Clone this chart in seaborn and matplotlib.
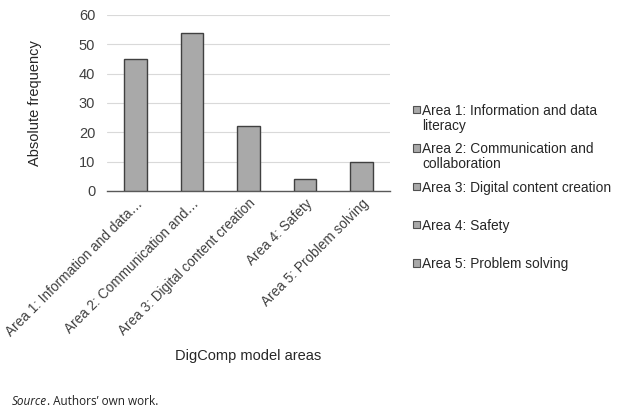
import matplotlib
matplotlib.use("Agg")
import matplotlib.pyplot as plt
import matplotlib.patches as mpatches
import seaborn as sns
import pandas as pd

# data
areas = ["Area 1: Information and data literacy",
         "Area 2: Communication and collaboration",
         "Area 3: Digital content creation",
         "Area 4: Safety",
         "Area 5: Problem solving"]
tick_labels = ["Area 1: Information and data\u2026",
               "Area 2: Communication and\u2026",
               "Area 3: Digital content creation",
               "Area 4: Safety",
               "Area 5: Problem solving"]
legend_labels = ["Area 1: Information and data\nliteracy",
                 "Area 2: Communication and\ncollaboration",
                 "Area 3: Digital content creation",
                 "Area 4: Safety",
                 "Area 5: Problem solving"]
freq = [45, 54, 22, 4, 10]

df = pd.DataFrame({"area": areas, "freq": freq})

sns.set_style("white")
plt.rcParams["font.family"] = ["Liberation Sans", "DejaVu Sans"]
txt = "#404040"

fig = plt.figure(figsize=(6.3, 4.15), dpi=100)
ax = fig.add_axes([0.170, 0.540, 0.449, 0.424])

sns.barplot(data=df, x="area", y="freq", color="#a9a9a9", saturation=1,
            width=0.4, edgecolor="#404040", linewidth=1.0, ax=ax, zorder=3)

ax.set_ylim(0, 60)
ax.set_yticks(range(0, 61, 10))
ax.yaxis.grid(True, color="#d9d9d9", linewidth=0.8, zorder=0)
ax.set_xlim(-0.5, 4.5)
for s in ["top", "right", "left"]:
    ax.spines[s].set_visible(False)
ax.spines["bottom"].set_color("#595959")
ax.spines["bottom"].set_linewidth(1.0)
ax.set_xticks(range(5))
ax.set_xticklabels(tick_labels, rotation=45, ha="right", rotation_mode="anchor",
                   fontsize=9.8, color=txt)
ax.tick_params(axis="x", length=0, pad=4)
ax.tick_params(axis="y", length=0, labelsize=10.5, labelcolor=txt, pad=8.5)
ax.set_xlabel("DigComp model areas", fontsize=10.5, color="#262626")
ax.xaxis.set_label_coords(0.5, -0.90)
ax.set_ylabel("Absolute frequency", fontsize=10.5, color="#262626")
ax.yaxis.set_label_coords(-0.23, 0.5)

# legend drawn by hand so the entries sit evenly like the original
y0 = 104
step = 38.3
for i, lab in enumerate(legend_labels):
    ytop = y0 + i * step
    fig.patches.append(mpatches.Rectangle((412.5 / 630, 1 - (ytop + 9.5) / 415),
                                          7.5 / 630, 7.5 / 415,
                                          transform=fig.transFigure,
                                          facecolor="#a9a9a9", edgecolor="#505050",
                                          linewidth=0.8))
    fig.text(422 / 630, 1 - ytop / 415, lab, fontsize=9.9, color="#262626",
             va="top", ha="left", linespacing=1.1)

fig.text(12 / 630, 1 - 405 / 415, "Source", fontsize=8.5, style="italic",
         color="#222222", family=["Open Sans", "DejaVu Sans"])
fig.text(47 / 630, 1 - 405 / 415, ". Authors\u2019 own work.", fontsize=8.5,
         color="#222222", family=["Open Sans", "DejaVu Sans"])

fig.savefig("out.png", dpi=100)
